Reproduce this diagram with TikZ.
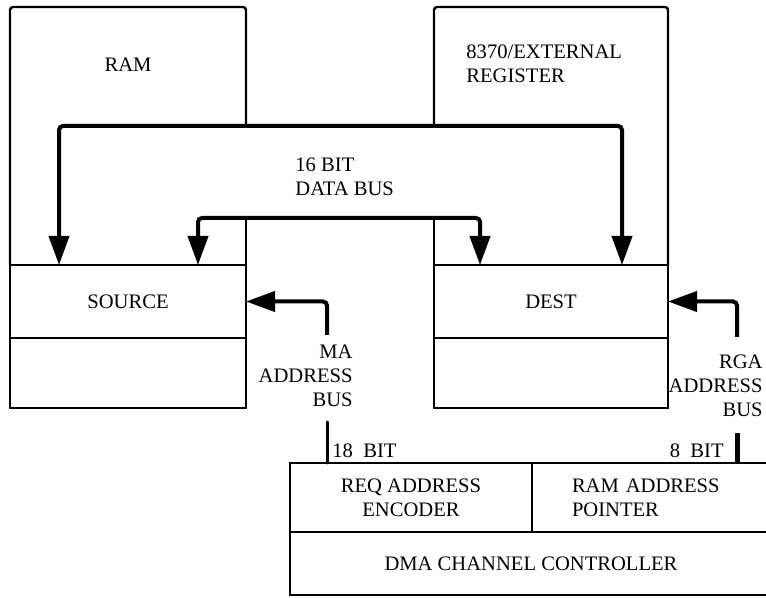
\documentclass[tikz,border=0pt]{standalone}
\usepackage{fontspec}
\setmainfont{Liberation Serif}
\usepackage{tikz}
\usetikzlibrary{arrows.meta}

\begin{document}
\begin{tikzpicture}[x=0.5pt, y=-0.5pt,
		box_style/.style={rectangle,draw=black,line width=1.2pt,inner sep=0pt,outer sep=0pt,font=\fontsize{10.3}{12}\selectfont},
		area_style/.style={rectangle,draw=none,inner sep=0pt,outer sep=0pt},
		label_style/.style={inner sep=0pt,font=\fontsize{10.3}{12}\selectfont},
		line_style/.style={draw=black,line width=1.2pt,rounded corners=1.5pt},
		bus_style/.style={draw=black,line width=2pt,rounded corners=2pt},
		edge_style/.style={draw=black,line width=1.5pt},
		tip/.tip={Triangle[length=14.5pt,width=10pt]}]

		\useasboundingbox (0,0) rectangle (766,598);

		% memory areas (outlines cut by the data bus)
		\node[area_style,minimum width=118pt,minimum height=129pt] (ram) at (128,136) {};
		\node[area_style,minimum width=117pt,minimum height=129pt] (ext) at (551,136) {};
		\node[label_style] (ramlabel) at (128,65) {RAM};
		\node[label_style,anchor=west,align=left] (extlabel) at (466,64) {8370/EXTERNAL\\REGISTER};

		% registers
		\node[box_style,minimum width=118pt,minimum height=36.5pt] (src) at (128,301.5) {SOURCE};
		\node[box_style,minimum width=118pt,minimum height=35pt] (srclo) at (128,373) {};
		\node[box_style,minimum width=117pt,minimum height=36.5pt] (dst) at (551,301.5) {DEST};
		\node[box_style,minimum width=117pt,minimum height=35pt] (dstlo) at (551,373) {};

		% dma controller
		\node[box_style,minimum width=121pt,minimum height=34.5pt,align=center] (req) at (411,497.5) {REQ ADDRESS\\ENCODER};
		\node[box_style,minimum width=120pt,minimum height=34.5pt,text width=80pt,align=left] (ptr) at (652,497.5) {RAM ADDRESS\\POINTER};
		\node[box_style,minimum width=241pt,minimum height=31.5pt] (dma) at (531,563.5) {DMA CHANNEL CONTROLLER};

		\coordinate (busl) at (59,126);
		\coordinate (busr) at (622,126);
		\coordinate (inl) at (198,218);
		\coordinate (inr) at (480,218);
		\coordinate (ma_top) at (327,335);
		\coordinate (ma_bot) at (327,422);
		\coordinate (rga_top) at (737,337);
		\coordinate (rga_bot) at (737,433);

		\draw[line_style] (ram.east |- busl) -- (ram.north east) -- (ram.north west) -- (ram.south west);
		\draw[line_style] (ram.east |- inl) -- (ram.south east);
		\draw[line_style] (ext.west |- busl) -- (ext.north west) -- (ext.north east) -- (ext.south east);
		\draw[line_style] (ext.west |- inl) -- (ext.south west);

		% data bus
		\draw[bus_style,tip-tip] (src.north -| busl) -- (busl) -- (busr) -- (dst.north -| busr);
		\draw[bus_style,tip-tip] (src.north -| inl) -- (inl) -- (inr) -- (dst.north -| inr);
		\node[label_style,anchor=west,align=left] (datalabel) at (295,177) {16 BIT\\DATA BUS};

		% address buses
		\draw[bus_style,-tip] (ma_top) |- (src.east);
		\draw[edge_style,line cap=round] (ma_bot) -- (ma_bot |- req.north);
		\node[label_style,anchor=east,align=right] (malabel) at (353,376) {MA\\ADDRESS\\BUS};
		\node[label_style,anchor=west] (bit18) at (332,451) {18~~BIT};

		\draw[bus_style,-tip] (rga_top) |- (dst.east);
		\draw[draw=black,line width=2.5pt] (rga_bot) -- (rga_bot |- ptr.north);
		\node[label_style,anchor=east,align=right] (rgalabel) at (763,386) {RGA\\ADDRESS\\BUS};
		\node[label_style,anchor=east] (bit8) at (724,451) {8~~BIT};

		\end{tikzpicture}
\end{document}
